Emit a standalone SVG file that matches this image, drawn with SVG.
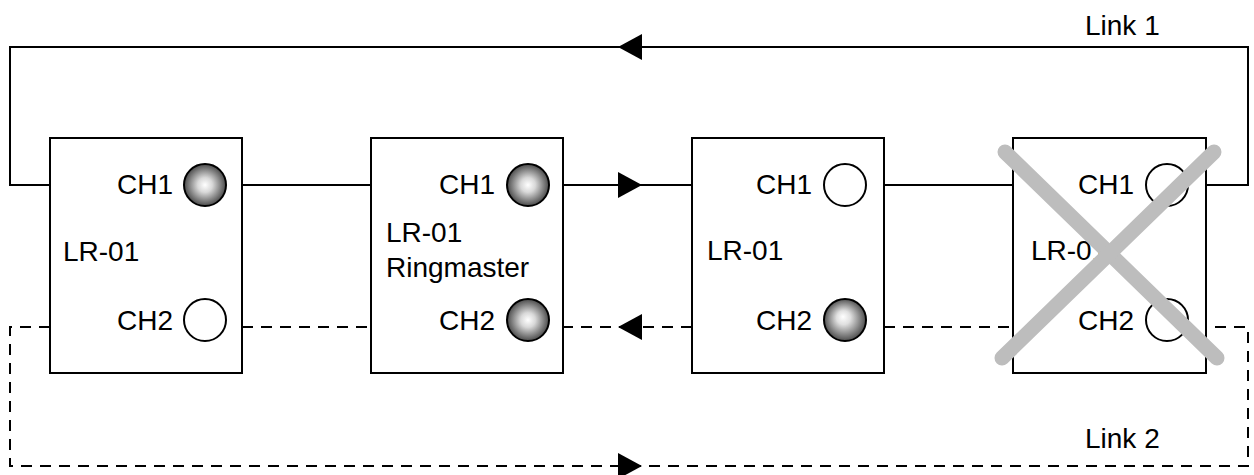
<svg xmlns="http://www.w3.org/2000/svg" width="1254" height="475" viewBox="0 0 1254 475">
<defs>
<radialGradient id="led" cx="0.5" cy="0.5" r="0.5">
<stop offset="0" stop-color="#ffffff"/>
<stop offset="0.35" stop-color="#d8d8d8"/>
<stop offset="1" stop-color="#4a4a4a"/>
</radialGradient>
<radialGradient id="led2" cx="0.5" cy="0.5" r="0.55" fx="0.45" fy="0.42">
<stop offset="0" stop-color="#ffffff"/>
<stop offset="0.3" stop-color="#e0e0e0"/>
<stop offset="1" stop-color="#3a3a3a"/>
</radialGradient>
<marker id="arr" viewBox="0 0 24 26" refX="12" refY="13" markerWidth="24" markerHeight="26" markerUnits="userSpaceOnUse" orient="auto">
<path d="M0,0 L24,13 L0,26 Z" fill="#000"/>
</marker>
</defs>
<style>
.ln{fill:none;stroke:#000;stroke-width:2}
.ds{fill:none;stroke:#000;stroke-width:2;stroke-dasharray:11 8}
.box{fill:#fff;stroke:#000;stroke-width:2}
.t{font-family:"Liberation Sans",Arial,sans-serif;font-size:28px;fill:#000}
.r{text-anchor:end}
.off{fill:#fff;stroke:#000;stroke-width:2}
.on{fill:url(#led);stroke:#000;stroke-width:2}
.on2{fill:url(#led2);stroke:#000;stroke-width:2}
.x{stroke:#bdbdbd;stroke-width:15;stroke-linecap:round}
</style>
<g id="connectors">
<path class="ln" d="M1206,185 H1248 V47 H630" marker-end="url(#arr)"/>
<path class="ln" d="M630,47 H10 V185 H50"/>
<path class="ln" d="M242,185 H371"/>
<path class="ln" d="M563,185 H630" marker-end="url(#arr)"/>
<path class="ln" d="M630,185 H692"/>
<path class="ln" d="M884,185 H1013"/>
<path class="ds" d="M50,327 H10 V466 H630" marker-end="url(#arr)"/>
<path class="ds" d="M630,466 H1248 V327 H1206"/>
<path class="ds" d="M242,327 H371"/>
<path class="ds" d="M692,327 H630" marker-end="url(#arr)"/>
<path class="ds" d="M630,327 H563"/>
<path class="ds" d="M884,327 H1013"/>
</g>
<text class="t" x="1085" y="35">Link 1</text>
<text class="t" x="1085" y="448">Link 2</text>
<g id="node1">
<rect class="box" x="50" y="138" width="192" height="235"/>
<text class="t r" x="173" y="194">CH1</text>
<circle class="on" cx="205" cy="185" r="21"/>
<text class="t" x="63" y="261">LR-01</text>
<text class="t r" x="173" y="330">CH2</text>
<circle class="off" cx="205" cy="320" r="21"/>
</g>
<g id="node2">
<rect class="box" x="371" y="138" width="192" height="235"/>
<text class="t r" x="495" y="194">CH1</text>
<circle class="on" cx="528" cy="185" r="21"/>
<text class="t" x="386" y="242">LR-01</text>
<text class="t" x="386" y="277">Ringmaster</text>
<text class="t r" x="495" y="330">CH2</text>
<circle class="on" cx="528" cy="320" r="21"/>
</g>
<g id="node3">
<rect class="box" x="692" y="138" width="192" height="235"/>
<text class="t r" x="812" y="194">CH1</text>
<circle class="off" cx="845" cy="185" r="21"/>
<text class="t" x="707" y="260">LR-01</text>
<text class="t r" x="812" y="330">CH2</text>
<circle class="on2" cx="845" cy="320" r="21"/>
</g>
<g id="node4">
<rect class="box" x="1013" y="138" width="193" height="235"/>
<text class="t r" x="1134" y="194">CH1</text>
<circle class="off" cx="1167" cy="185" r="21"/>
<text class="t" x="1031" y="260">LR-01</text>
<text class="t r" x="1134" y="330">CH2</text>
<circle class="off" cx="1167" cy="320" r="21"/>
<line class="x" x1="1005" y1="152" x2="1217" y2="358"/>
<line class="x" x1="1214" y1="152" x2="1002" y2="358"/>
</g>
</svg>
